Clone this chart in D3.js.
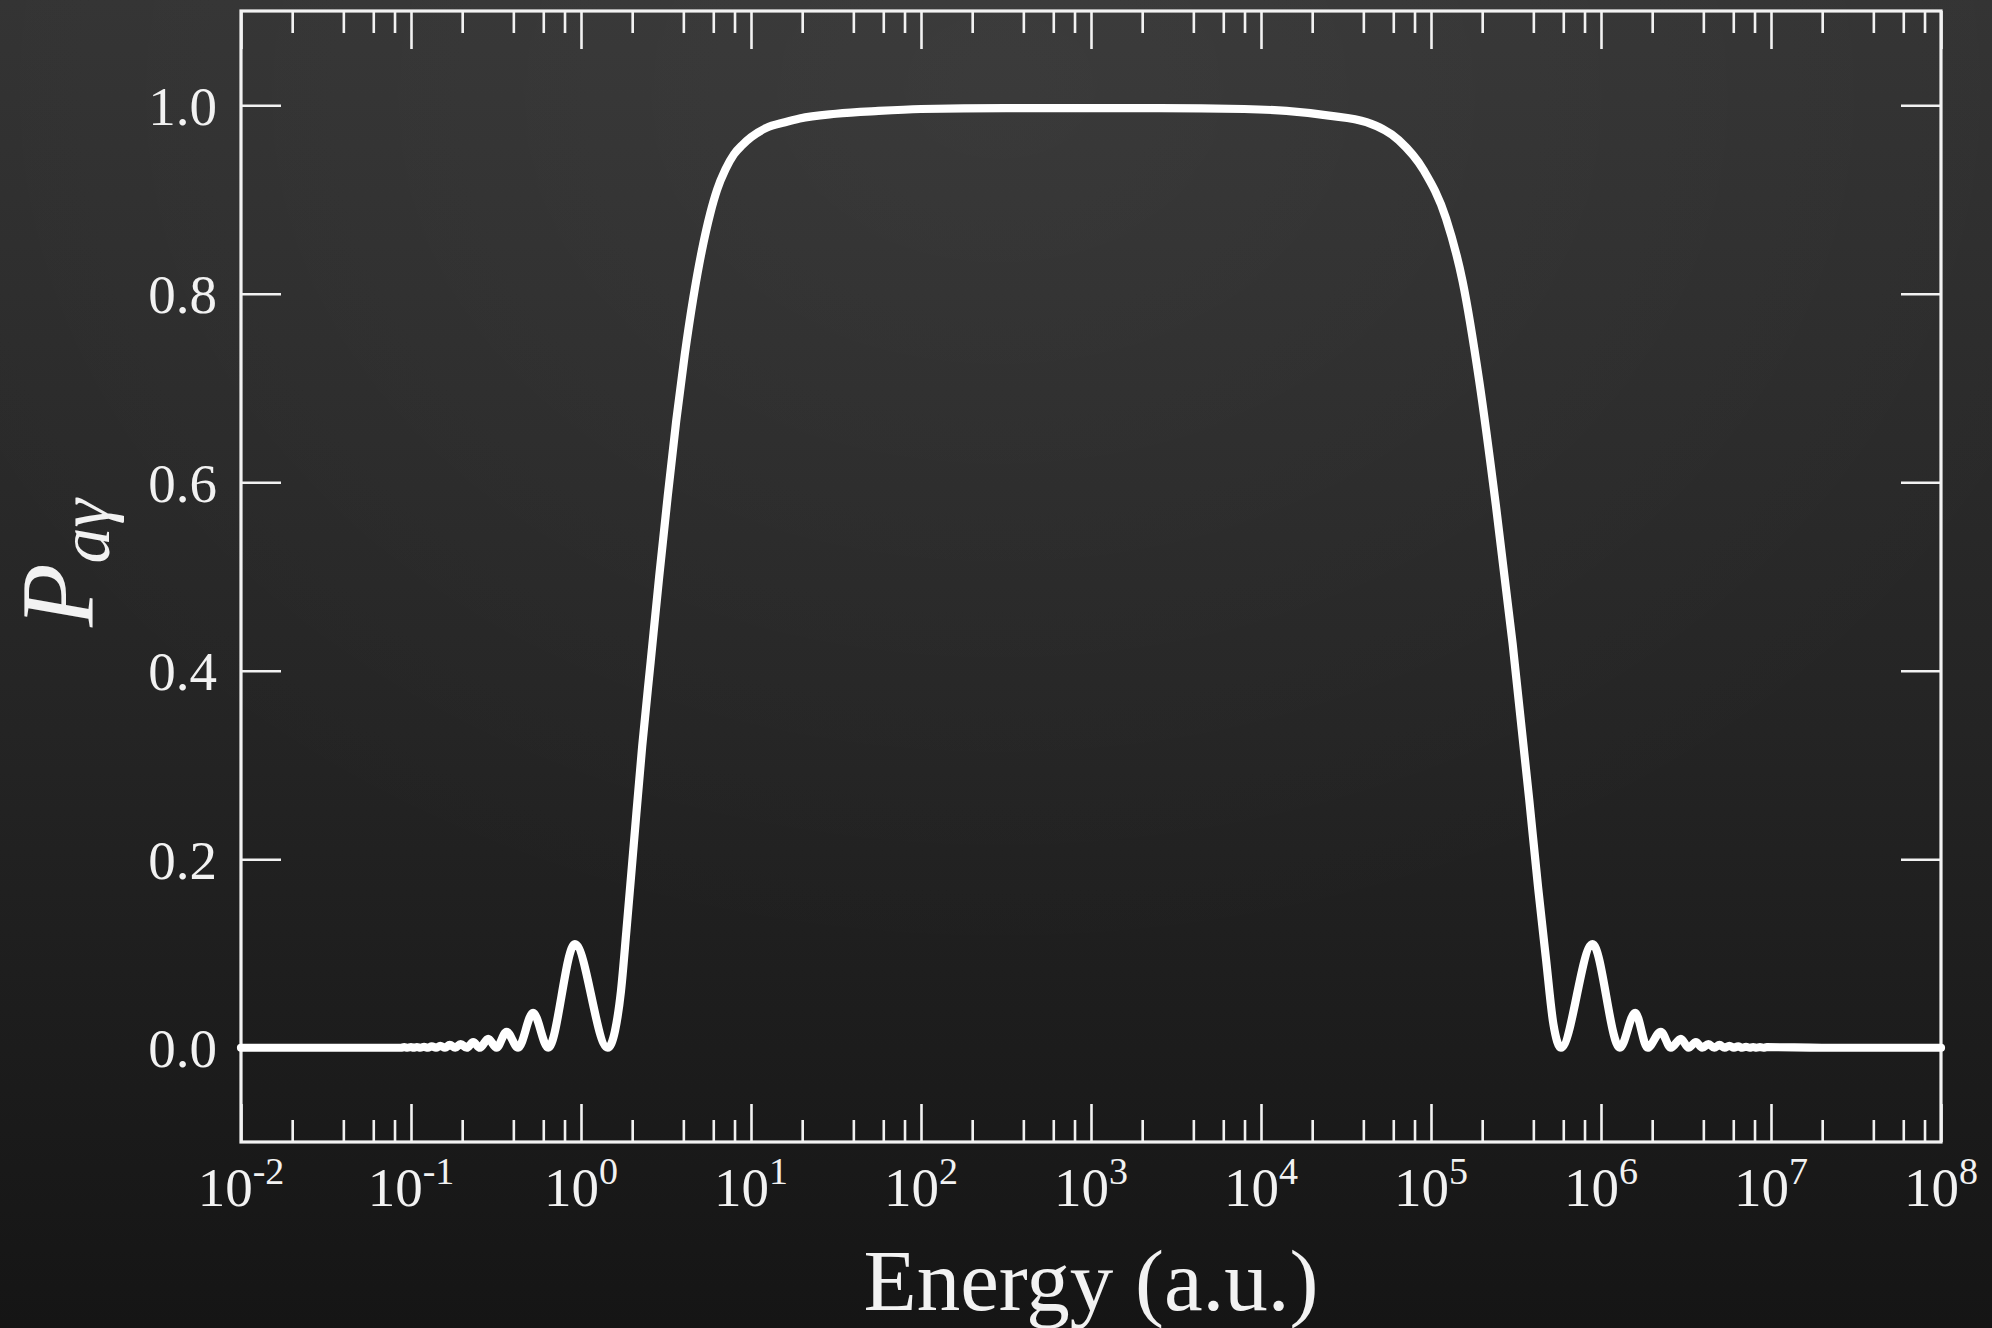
<!DOCTYPE html>
<html><head><meta charset="utf-8">
<script src="https://cdn.jsdelivr.net/npm/d3@7"></script>
<style>html,body{margin:0;padding:0;background:#1b1b1b;} svg{display:block}</style>
</head><body>
<svg id="chart" width="1992" height="1328"></svg>
<script>
// ---- data ----
const xTickExponents = [-2,-1,0,1,2,3,4,5,6,7,8];
const minorMultipliers = [2,4,6,8];
const yTickValues = [0.0,0.2,0.4,0.6,0.8,1.0];
const yTickLabels = ["0.0","0.2","0.4","0.6","0.8","1.0"];
const xTitle = "Energy (a.u.)";
// log10(Energy) of each sample of the curve
const logEnergy = [
 -2.0,-1.5,-1.15,-1.06,-1.04,-1.02,-1.00,-0.985,-0.965,-0.945,-0.923,-0.900,-0.878,-0.853,-0.828,-0.800,-0.772,-0.740,-0.708,-0.672,-0.634,
 -0.595,-0.546,-0.497,-0.438,-0.370,-0.282,-0.193,-0.036,0.157,0.20,0.235,0.2675,0.31,0.36,0.41,0.46,
 0.51,0.56,0.61,0.66,0.71,0.76,0.80,0.85,0.90,0.95,1.0,1.09,1.2,1.286,1.5,1.75,2.0,2.5,2.95,3.4,3.9,4.15,4.4,4.62,
 4.81,4.957,5.088,5.186,5.284,5.382,5.480,5.578,5.63,5.676,5.72,5.764,5.950,6.111,6.201,6.274,6.352,6.411,
 6.470,6.515,6.558,6.595,6.632,6.666,6.697,6.727,6.755,6.782,6.807,6.831,6.853,6.875,6.895,6.915,6.935,6.955,6.975,7.3,8.0
];
// conversion probability P_aγ at those samples
const probability = [
 0,0,0,0,0.0006,0,0.0007,0,0.0008,0,0.001,0,0.0015,0,0.002,0,0.003,0,0.004,0,0.006,
 0,0.0095,0,0.017,0,0.037,0,0.110,0,0.018,0.06,0.125,0.215,0.32,0.41,0.50,
 0.585,0.665,0.735,0.795,0.845,0.885,0.91,0.932,0.948,0.958,0.966,0.976,0.982,0.986,0.991,0.994,0.996,0.997,0.997,0.997,0.996,0.994,0.989,0.982,
 0.963,0.931,0.880,0.813,0.707,0.575,0.429,0.263,0.17,0.095,0.025,0,0.110,0,0.037,0,0.017,0,
 0.0095,0,0.006,0,0.004,0,0.003,0,0.002,0,0.0015,0,0.001,0,0.0008,0,0.0007,0,0.0006,0,0
];

// ---- layout ----
const W = 1992, H = 1328;
const L = 241, R = 1941, T = 11, B = 1142;
const svg = d3.select("#chart");
const defs = svg.append("defs");
const lg = defs.append("linearGradient").attr("id","bgLin").attr("x1",0).attr("y1",0).attr("x2",0).attr("y2",1);
lg.append("stop").attr("offset","0%").attr("stop-color","#333333");
lg.append("stop").attr("offset","55%").attr("stop-color","#242424");
lg.append("stop").attr("offset","100%").attr("stop-color","#151515");
const rg = defs.append("radialGradient").attr("id","bgRad").attr("gradientUnits","userSpaceOnUse")
  .attr("cx",1000).attr("cy",80).attr("r",900).attr("gradientTransform","translate(1000,80) scale(1.3,1) translate(-1000,-80)");
rg.append("stop").attr("offset","0%").attr("stop-color","#ffffff").attr("stop-opacity",0.045);
rg.append("stop").attr("offset","100%").attr("stop-color","#ffffff").attr("stop-opacity",0);
svg.append("rect").attr("width",W).attr("height",H).attr("fill","url(#bgLin)");
svg.append("rect").attr("width",W).attr("height",H).attr("fill","url(#bgRad)");

const x = d3.scaleLog().domain([1e-2,1e8]).range([L,R]);
const y = d3.scaleLinear().domain([-0.1,1.1]).range([B,T]);

const font = "'Liberation Serif','Times New Roman',serif";
const fg = "#f2f2f2";

const majors = xTickExponents.map(e => Math.pow(10,e));
const minors = [];
xTickExponents.slice(0,-1).forEach(e => minorMultipliers.forEach(m => minors.push(m*Math.pow(10,e))));

function styleAxis(g){
  g.select(".domain").remove();
  g.selectAll(".tick line").attr("stroke",fg).attr("stroke-width",2.6);
}
// bottom & top major / minor ticks (inward)
svg.append("g").attr("transform",`translate(0,${B})`)
  .call(d3.axisBottom(x).tickValues(majors).tickSize(-38).tickFormat(""))
  .call(styleAxis);
svg.append("g").attr("transform",`translate(0,${B})`)
  .call(d3.axisBottom(x).tickValues(minors).tickSize(-22).tickFormat(""))
  .call(styleAxis);
svg.append("g").attr("transform",`translate(0,${T})`)
  .call(d3.axisTop(x).tickValues(majors).tickSize(-38).tickFormat(""))
  .call(styleAxis);
svg.append("g").attr("transform",`translate(0,${T})`)
  .call(d3.axisTop(x).tickValues(minors).tickSize(-22).tickFormat(""))
  .call(styleAxis);
// left & right y ticks
svg.append("g").attr("transform",`translate(${L},0)`)
  .call(d3.axisLeft(y).tickValues(yTickValues).tickSize(-40).tickFormat(""))
  .call(styleAxis);
svg.append("g").attr("transform",`translate(${R},0)`)
  .call(d3.axisRight(y).tickValues(yTickValues).tickSize(-40).tickFormat(""))
  .call(styleAxis);

// frame
svg.append("rect").attr("x",L).attr("y",T).attr("width",R-L).attr("height",B-T)
  .attr("fill","none").attr("stroke",fg).attr("stroke-width",3.2);

// y tick labels
svg.append("g").selectAll("text").data(yTickValues).join("text")
  .attr("x",L-24).attr("y",d=>y(d)).attr("dy","0.35em")
  .attr("text-anchor","end").attr("fill",fg)
  .attr("font-family",font).attr("font-size",55)
  .text((d,i)=>yTickLabels[i]);

// x tick labels with superscripts
const xl = svg.append("g").selectAll("text").data(xTickExponents).join("text")
  .attr("x",d=>x(Math.pow(10,d))).attr("y",1206)
  .attr("text-anchor","middle").attr("fill",fg)
  .attr("font-family",font).attr("font-size",55);
xl.append("tspan").text("10");
xl.append("tspan").attr("dy",-22).attr("font-size",38).text(d=>String(d));

// axis titles
svg.append("text").attr("x",(L+R)/2).attr("y",1310).attr("text-anchor","middle")
  .attr("fill",fg).attr("font-family",font).attr("font-size",87).text(xTitle);
const yt = svg.append("text").attr("transform","translate(93,563) rotate(-90)")
  .attr("text-anchor","middle").attr("fill",fg).attr("font-family",font);
yt.append("tspan").attr("font-style","italic").attr("font-size",104).text("P");
yt.append("tspan").attr("font-style","italic").attr("font-size",72).attr("dy",16).text("aγ");

// curve
const pts = logEnergy.map((le,i)=>[Math.pow(10,le), probability[i]]);
const line = d3.line().x(d=>x(d[0])).y(d=>y(d[1])).curve(d3.curveMonotoneX);
svg.append("path").datum(pts).attr("d",line).attr("fill","none")
  .attr("stroke","#ffffff").attr("stroke-width",8.2).attr("stroke-linejoin","round").attr("stroke-linecap","round");
</script>
</body></html>
